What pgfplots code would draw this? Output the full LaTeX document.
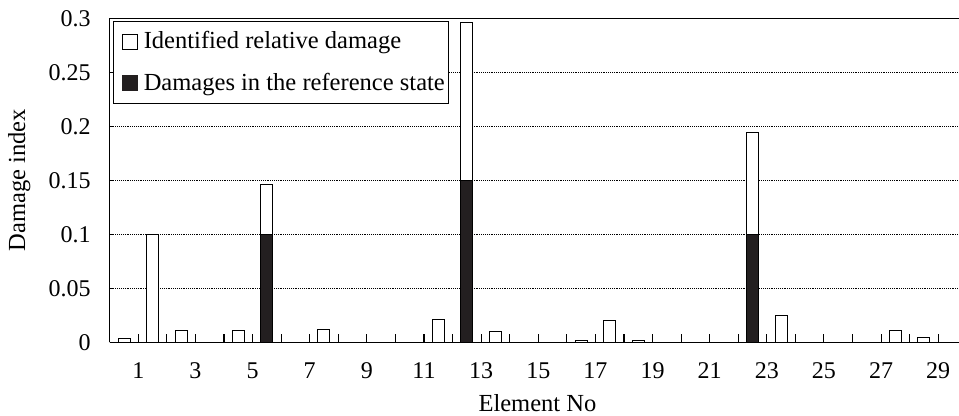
\documentclass[border=0pt]{standalone}
\usepackage{pgfplots}
\pgfplotsset{compat=1.18}
\usepackage{fontspec}
\setmainfont{Liberation Serif}
\definecolor{barblack}{RGB}{35,31,32}
\newcommand{\bigf}{\fontsize{18}{21.6}\selectfont}
\newcommand{\labf}{\fontsize{18.4}{22}\selectfont}
\begin{document}
\bigf
\begin{tikzpicture}[font=\bigf]
\useasboundingbox (0,0) rectangle (719.25pt,311.25pt);
\begin{axis}[
  at={(82.3pt,54.5pt)}, anchor=south west,
  scale only axis, width=637pt, height=243pt,
  xmin=0, xmax=29.73, ymin=0, ymax=0.3,
  axis x line*=bottom, axis y line*=left,
  axis line style={black, line width=1pt},
  ybar, bar shift=0pt, bar width=0.42,
  xtick={1,3,...,29}, minor xtick={0,1,...,29},
  x tick style={draw=none},
  minor x tick style={draw=black, line width=0.8pt},
  tick align=inside,
  major tick length=3.5pt, minor tick length=6pt,
  y tick style={black, line width=0.8pt},
  ytick={0,0.05,0.1,0.15,0.2,0.25,0.3},
  scaled y ticks=false,
  /pgf/number format/assume math mode=true,
  y tick label style={/pgf/number format/fixed, /pgf/number format/precision=2},
  x tick label style={font=\bigf, anchor=north, inner sep=0pt, outer sep=0pt, yshift=-15.5pt},
  y tick label style={font=\bigf, anchor=east, inner sep=0pt, outer sep=0pt, xshift=-14.3pt},
  ymajorgrids, grid style={densely dotted, black, line width=0.6pt},
  legend cell align=left,
  legend style={at={(axis description cs:0,1)}, anchor=north west, font=\labf,
    xshift=2.2pt, yshift=-1.8pt, draw=black, line width=0.75pt, fill=white,
    inner xsep=2pt, inner ysep=5pt, row sep=10.5pt,
    nodes={inner xsep=0.5pt, inner ysep=2.5pt},
    /tikz/every odd column/.append style={column sep=4pt}},
]
\addplot[draw=black, fill=white, line width=0.75pt,
  legend image code/.code={\path (0pt,0pt); \draw[draw=black, fill=white, line width=0.75pt] (4.5pt,-5.6pt) rectangle (15.7pt,5.6pt);}]
  coordinates {
  (0.5,0.0040) (1.5,0.0995) (2.5,0.0114) (4.5,0.0105) (5.5,0.1466)
  (7.5,0.0117) (11.5,0.0216) (12.5,0.2963) (13.5,0.0098) (16.5,0.0013)
  (17.5,0.0200) (18.5,0.0013) (22.5,0.1940) (23.5,0.0250) (27.5,0.0107)
  (28.5,0.0043)
  };
\addlegendentry{Identified relative damage}
\addplot[draw=black, fill=barblack, line width=0.75pt,
  legend image code/.code={\path (0pt,0pt); \draw[draw=barblack, fill=barblack, line width=0.75pt] (4.5pt,-5.6pt) rectangle (15.7pt,5.6pt);}]
  coordinates {
  (5.5,0.10) (12.5,0.15) (22.5,0.10)
  };
\addlegendentry{Damages in the reference state}
\draw[black, line width=1pt] (rel axis cs:0,1) -- (rel axis cs:1,1);
\end{axis}
\node[font=\labf, anchor=base, inner sep=0pt] at (403.1pt,2.6pt) {Element No};
\node[font=\labf, rotate=90, anchor=base, inner sep=0pt] at (18.75pt,176pt) {Damage index};
\end{tikzpicture}
\end{document}
